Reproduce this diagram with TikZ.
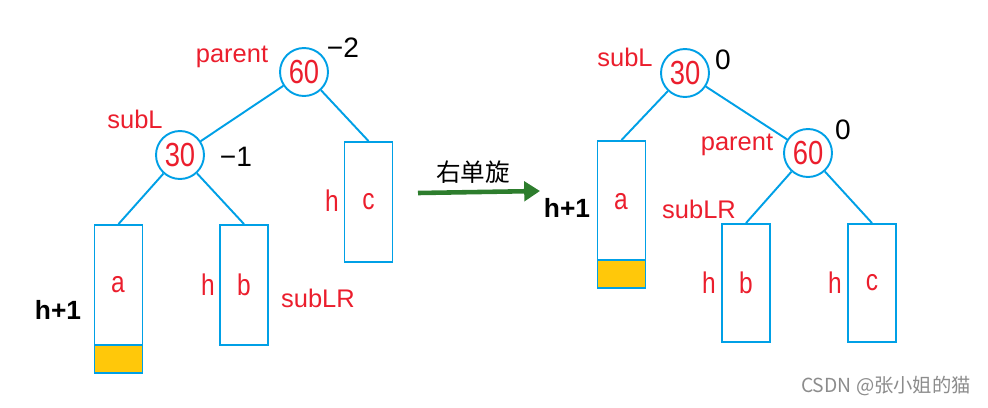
\documentclass[tikz,border=0pt]{standalone}
\usepackage{fontspec}
\setmainfont{Liberation Sans}
\newfontfamily\narrow[FakeStretch=0.82]{Liberation Sans}
\newfontfamily\cjk{Noto Sans CJK SC}
\usetikzlibrary{arrows.meta}
\definecolor{treeblue}{RGB}{0,160,230}
\definecolor{keyred}{RGB}{235,30,45}
\definecolor{heavy}{RGB}{255,200,10}
\definecolor{rotgreen}{RGB}{45,125,45}
\begin{document}
\begin{tikzpicture}[x=0.02cm,y=-0.02cm]

\tikzset{line/.style={draw=treeblue,line width=1.1pt}}
\tikzset{key/.style={line,circle,inner sep=0pt,minimum size=0.96cm,text=keyred,font=\narrow\fontsize{19}{19}\selectfont}}
\tikzset{box/.style={line,rectangle,inner sep=0pt,minimum width=0.96cm}}
\tikzset{tag/.style={text=keyred,font=\fontsize{14.5}{15}\selectfont}}
\tikzset{leaf/.style={text=keyred,font=\narrow\fontsize{17}{17}\selectfont}}
\tikzset{bal/.style={font=\fontsize{16}{16}\selectfont}}
\tikzset{hgt/.style={font=\bfseries\fontsize{15}{15}\selectfont}}

\useasboundingbox (0,0) rectangle (988,407);

\node[key] (p1) at (304, 72) {60};
\node[key] (l1) at (180, 155) {30};
\node[tag] at (232, 57) {parent};
\node[bal] at (343, 48) {−2};
\node[tag] at (135, 119) {subL};
\node[bal] at (236, 157) {−1};

\node[box,minimum height=2.96cm] (a1) at (118.5, 299) {};
\node[box,fill=heavy,minimum height=0.56cm,anchor=south] (y1) at (a1.south) {};
\node[leaf] at (118, 285) {a};
\node[hgt] at (58, 310) {h+1};
\node[box,minimum height=2.4cm,leaf] (b1) at (244, 285) {b};
\node[leaf] at (208, 285) {h};
\node[tag] at (318, 298) {subLR};
\node[box,minimum height=2.4cm,leaf] (c1) at (368.5, 202) {c};
\node[leaf] at (332, 201) {h};

\path[line] (p1) to (l1);
\path[line] (p1) to (c1.north);
\path[line] (l1) to (a1.north);
\path[line] (l1) to (b1.north);

\coordinate (s) at (418, 193);
\coordinate (e) at (540, 191);
\draw[rotgreen,line width=2.6pt,-{Triangle[length=9pt,width=11pt]}] (s) -- (e);
\node[font=\cjk\fontsize{14}{14}\selectfont] at (473, 172) {右单旋};

\node[key] (l2) at (685, 73) {30};
\node[key] (p2) at (808, 153) {60};
\node[tag] at (625, 57) {subL};
\node[bal] at (723, 60) {0};
\node[tag] at (737, 145) {parent};
\node[bal] at (843, 130) {0};

\node[box,minimum height=2.94cm] (a2) at (621.5, 214.5) {};
\node[box,fill=heavy,minimum height=0.56cm,anchor=south] (y2) at (a2.south) {};
\node[leaf] at (621, 202) {a};
\node[hgt] at (567, 208) {h+1};
\node[tag] at (699, 209) {subLR};
\node[box,minimum height=2.36cm,leaf] (b2) at (746, 283) {b};
\node[leaf] at (709, 283) {h};
\node[box,minimum height=2.36cm,leaf] (c2) at (872, 283) {c};
\node[leaf] at (835, 283) {h};

\path[line] (l2) to (a2.north);
\path[line] (l2) to (p2);
\path[line] (p2) to (b2.north);
\path[line] (p2) to (c2.north);

\node[text=black!45,font=\cjk\fontsize{11}{11}\selectfont] at (886, 386) {CSDN @张小姐的猫};

\end{tikzpicture}
\end{document}
